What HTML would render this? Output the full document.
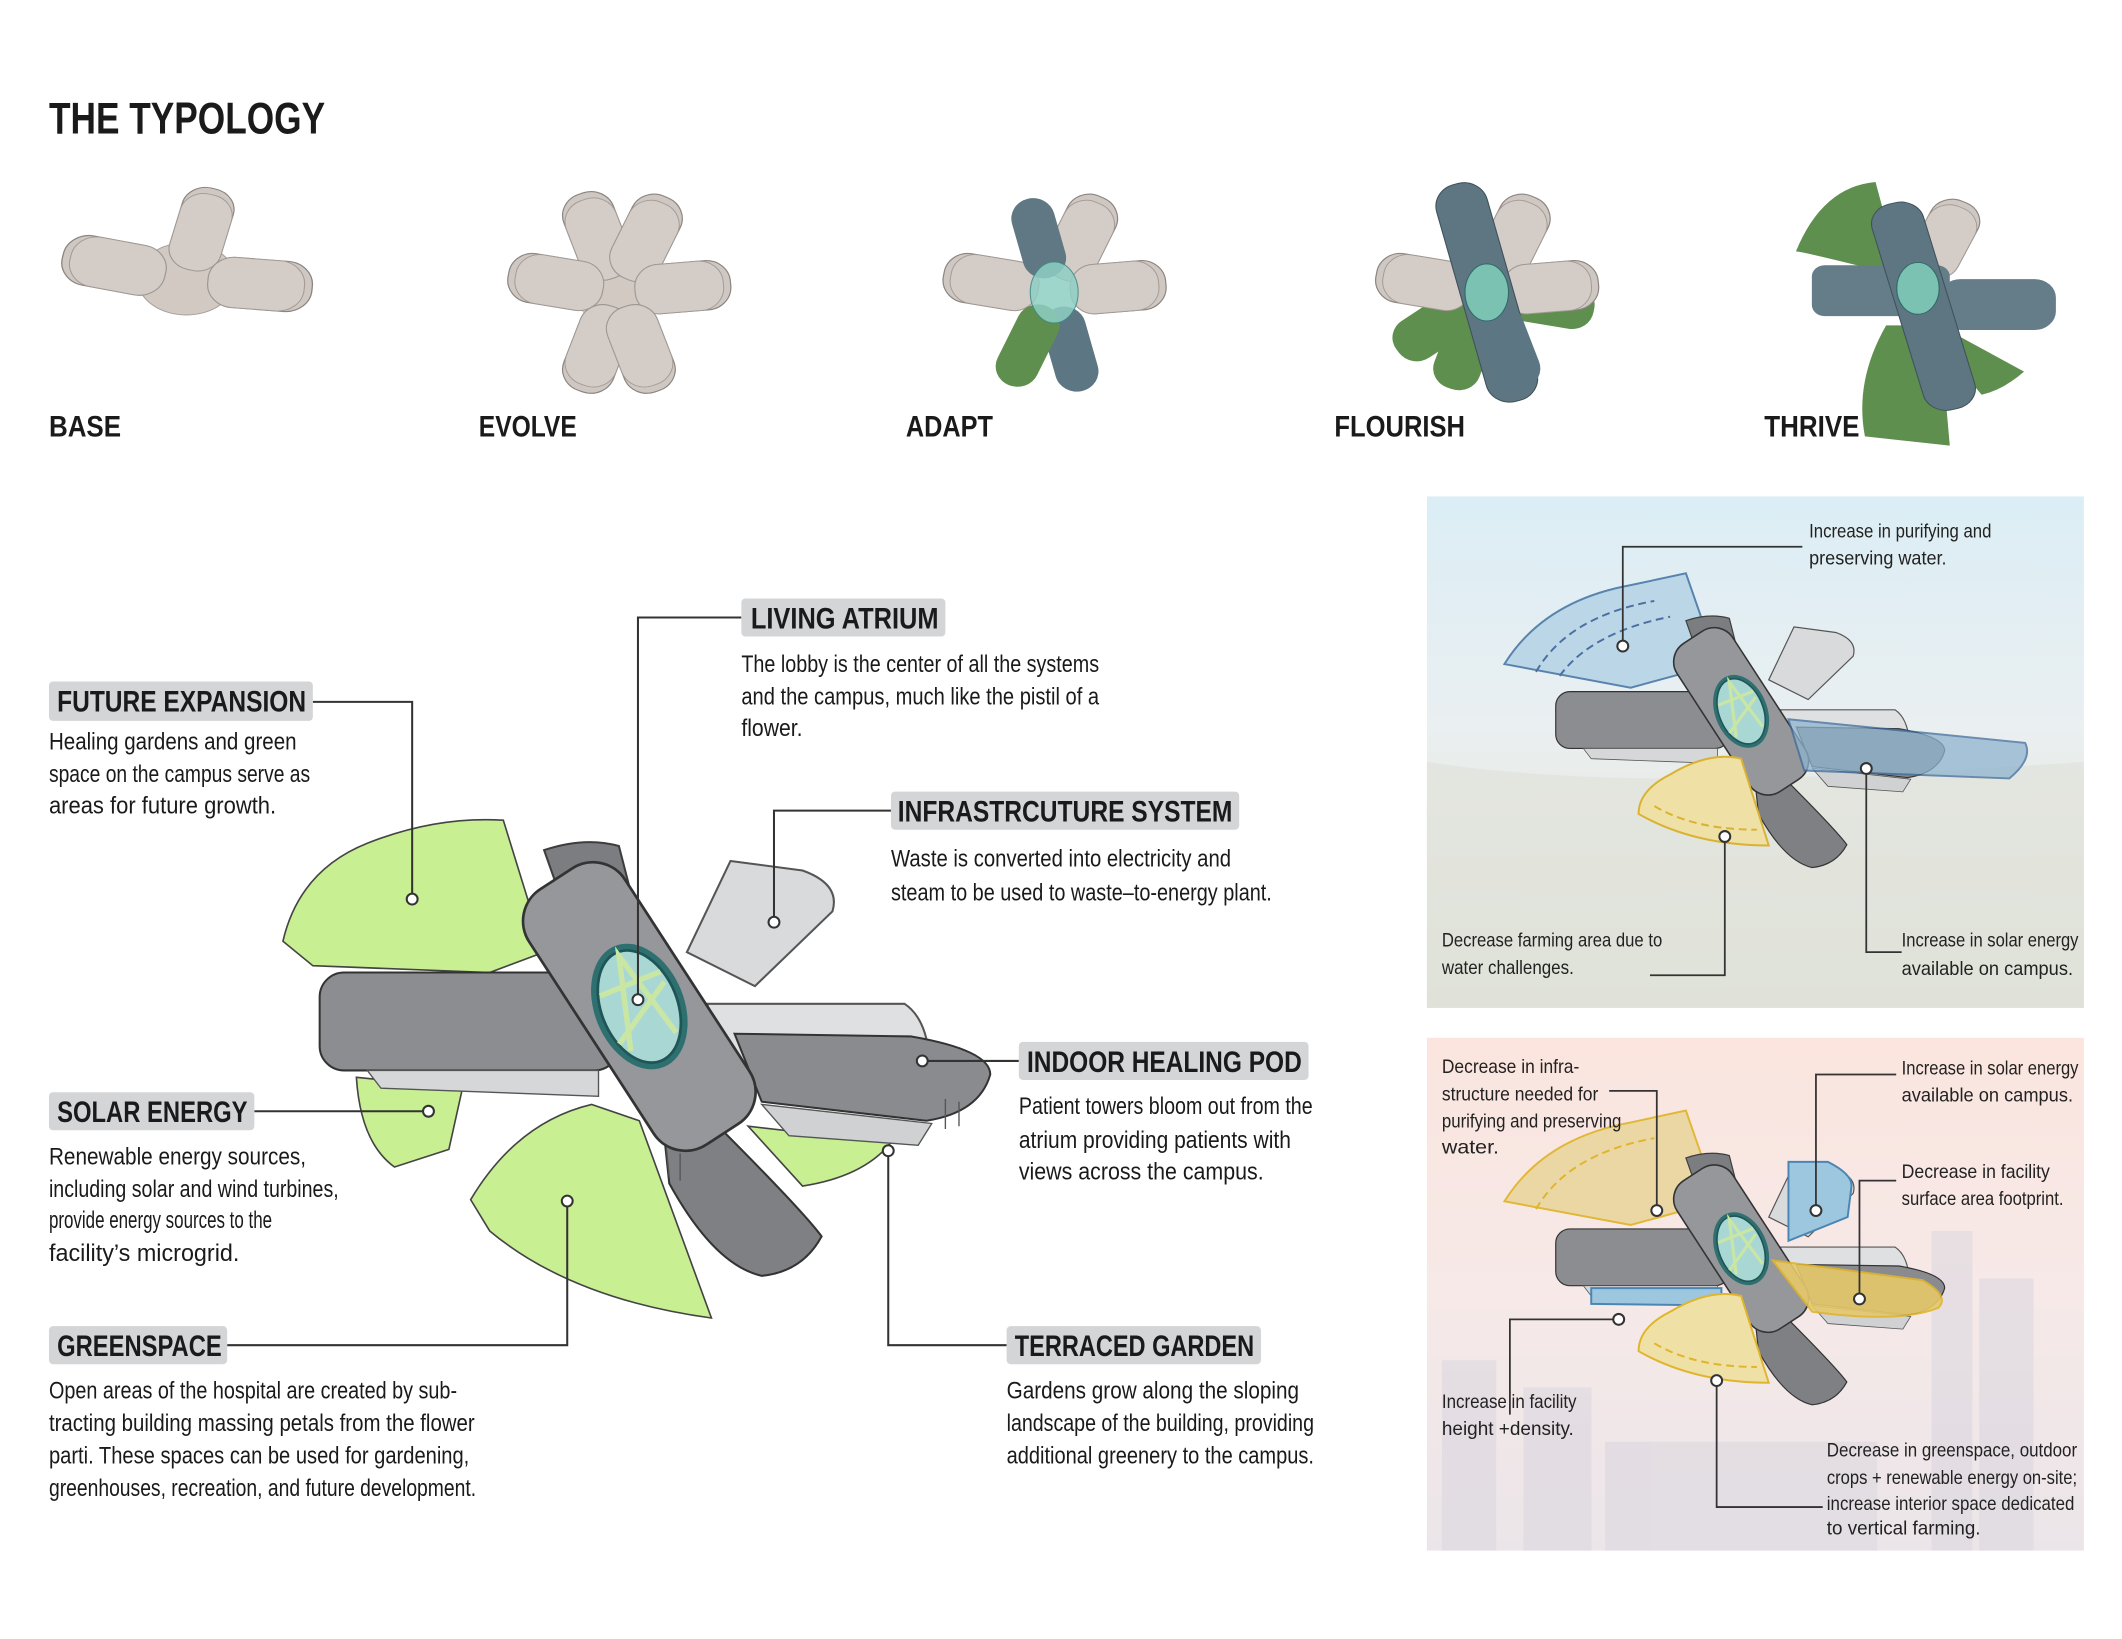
<!DOCTYPE html>
<html><head><meta charset="utf-8"><style>
html,body{margin:0;padding:0;background:#fff;}
svg{display:block}
text{font-family:"Liberation Sans",sans-serif;fill:#1a1a1a}
.h{font-weight:bold;font-size:22px}
.b{font-size:18px}
.s{font-size:14px;fill:#222}
</style></head><body>
<svg width="2122" height="1639" viewBox="0 0 1560 1205" preserveAspectRatio="none" xmlns="http://www.w3.org/2000/svg">
<defs>
<linearGradient id="g1" x1="0" y1="0" x2="0" y2="1"><stop offset="0" stop-color="#dbeef5"/><stop offset="0.45" stop-color="#eaeff1"/><stop offset="0.6" stop-color="#e8ebe6"/><stop offset="1" stop-color="#e2e5dd"/></linearGradient>
<linearGradient id="g2" x1="0" y1="0" x2="0" y2="1"><stop offset="0" stop-color="#fbe5de"/><stop offset="0.5" stop-color="#f6e9e8"/><stop offset="1" stop-color="#ebe5e9"/></linearGradient>
<g id="core">
 <path d="M-70,-115 Q-40,-125 -15,-118 L5,-40 L-40,-30 Z" fill="#7c7d80" stroke="#3d3d3d" stroke-width="1.5"/>
 <path d="M35,-40 L67,-107 L120,-100 Q148,-90 142,-70 L85,-15 Z" fill="#d9dadc" stroke="#555" stroke-width="1.5"/>
 <rect x="-235" y="-25" width="220" height="72" rx="18" fill="#8c8d90" stroke="#333" stroke-width="1.5"/>
 <path d="M-200,47 L-30,47 L-30,66 L-190,60 Z" fill="#d6d7d9" stroke="#555"/>
 <path d="M50,-2 L195,-2 Q210,8 213,35 L60,50 Z" fill="#dfe0e2" stroke="#555" stroke-width="1.5"/>
 <path d="M70,20 L200,22 Q258,32 258,50 Q250,78 211,84 L90,70 Z" fill="#8a8b8e" stroke="#333" stroke-width="1.5"/>
 <path d="M90,72 L215,86 L205,102 L110,95 Z" fill="#d0d1d3" stroke="#555"/>
 <path d="M18,92 L55,85 Q120,150 134,169 Q120,195 90,198 Q55,190 22,130 Z" fill="#7f8083" stroke="#333" stroke-width="1.5"/>
 <g transform="rotate(-33)"><rect x="-42" y="-112" width="84" height="224" rx="28" fill="#96979a" stroke="#333" stroke-width="2"/></g>
 <g transform="rotate(-22)"><ellipse cx="0" cy="0" rx="33" ry="48" fill="#2e6f70"/><ellipse cx="0" cy="0" rx="28" ry="43" fill="#a9d7d4" stroke="#1f5556" stroke-width="2"/>
 <path d="M-24,-18 L24,-18 M-18,28 L0,-40 L18,28 M-24,20 L24,-10" stroke="#c9e6a5" stroke-width="4" fill="none"/></g>
</g>
<g id="pet"><rect x="-22" y="-80" width="44" height="80" rx="20" fill="#cec7c2" stroke="#8c8480" stroke-width="1"/><rect x="-22" y="-74" width="44" height="74" rx="20" fill="#d3ccc7" stroke="#a29a95" stroke-width="0.8"/></g>
</defs>
<rect width="1560" height="1205" fill="#fff"/>

<text x="36" y="98" font-weight="bold" font-size="33" textLength="203" lengthAdjust="spacingAndGlyphs">THE TYPOLOGY</text>

<!-- Small flowers -->
<g transform="translate(137,205) scale(0.8,0.7)">
 <ellipse cx="0" cy="0" rx="45" ry="38" fill="#d2c9c3" stroke="#a99f99"/>
 <use href="#pet" transform="rotate(15) translate(0,-10) scale(1.1)"/>
 <use href="#pet" transform="rotate(-78) translate(0,-20) scale(1.2)"/>
 <use href="#pet" transform="rotate(95) translate(0,-20) scale(1.2)"/>
</g>
<g transform="translate(455,215) scale(0.8,0.75)">
 <ellipse cx="0" cy="0" rx="40" ry="35" fill="#d2c9c3"/>
 <use href="#pet" transform="rotate(-20) translate(0,-15) scale(1.1)"/>
 <use href="#pet" transform="rotate(25) translate(0,-15) scale(1.1)"/>
 <use href="#pet" transform="rotate(-80) translate(0,-15) scale(1.1)"/>
 <use href="#pet" transform="rotate(85) translate(0,-15) scale(1.1)"/>
 <use href="#pet" transform="rotate(200) translate(0,-15) scale(1.1)"/>
 <use href="#pet" transform="rotate(160) translate(0,-15) scale(1.1)"/>
</g>
<g transform="translate(775,215) scale(0.8,0.75)">
 <use href="#pet" transform="rotate(25) translate(0,-15) scale(1.1)"/>
 <use href="#pet" transform="rotate(-80) translate(0,-15) scale(1.1)"/>
 <use href="#pet" transform="rotate(85) translate(0,-15) scale(1.1)"/>
 <rect x="-20" y="-95" width="40" height="80" rx="20" fill="#5f7884" transform="rotate(-15)"/>
 <rect x="-20" y="15" width="40" height="85" rx="20" fill="#5c7783" transform="rotate(-15)"/>
 <rect x="-20" y="15" width="40" height="85" rx="20" fill="#5f8f4e" transform="rotate(25)"/>
 <ellipse cx="0" cy="0" rx="22" ry="30" fill="#8fcfc4" opacity="0.85" stroke="#3c8a84"/>
</g>
<g transform="translate(1093,215) scale(0.8,0.75)">
 <rect x="-22" y="15" width="44" height="85" rx="20" fill="#5f8f4e" transform="rotate(55)"/>
 <rect x="-22" y="15" width="44" height="85" rx="20" fill="#5f8f4e" transform="rotate(20)"/>
 <rect x="-22" y="15" width="44" height="85" rx="20" fill="#5f8f4e" transform="rotate(-80)"/>
 <use href="#pet" transform="rotate(25) translate(0,-15) scale(1.1)"/>
 <use href="#pet" transform="rotate(-80) translate(0,-15) scale(1.1)"/>
 <use href="#pet" transform="rotate(85) translate(0,-15) scale(1.1)"/>
 <rect x="-24" y="-110" width="48" height="220" rx="22" fill="#5d7682" stroke="#3e525b" transform="rotate(-15)"/>
 <rect x="-22" y="15" width="44" height="85" rx="20" fill="#5c7783" transform="rotate(-20)"/>
 <ellipse cx="0" cy="0" rx="20" ry="28" fill="#7cc2b3" stroke="#2f6a66"/>
</g>
<g transform="translate(1410,212) scale(0.78,0.68)">
 <path d="M-40,-20 Q-110,-40 -115,-40 Q-90,-110 -40,-115 L-20,-30 Z" fill="#5f8f4e"/>
 <path d="M-30,40 Q-60,100 -50,160 L30,170 L20,40 Z" fill="#5f8f4e"/>
 <path d="M20,40 L100,90 Q80,110 60,115 L20,60 Z" fill="#5f8f4e"/>
 <use href="#pet" transform="rotate(25) translate(0,-15) scale(1.1)"/>
 <rect x="-100" y="-25" width="130" height="55" rx="12" fill="#647d89"/>
 <rect x="20" y="-10" width="110" height="55" rx="20" fill="#647d89"/>
 <rect x="-25" y="-95" width="50" height="230" rx="22" fill="#5d7682" stroke="#3e525b" transform="rotate(-15)"/>
 <ellipse cx="0" cy="0" rx="20" ry="28" fill="#7cc2b3" stroke="#2f6a66"/>
</g>
<text class="h" x="36" y="321" textLength="53" lengthAdjust="spacingAndGlyphs">BASE</text>
<text class="h" x="352" y="321" textLength="72" lengthAdjust="spacingAndGlyphs">EVOLVE</text>
<text class="h" x="666" y="321" textLength="64" lengthAdjust="spacingAndGlyphs">ADAPT</text>
<text class="h" x="981" y="321" textLength="96" lengthAdjust="spacingAndGlyphs">FLOURISH</text>
<text class="h" x="1297" y="321" textLength="70" lengthAdjust="spacingAndGlyphs">THRIVE</text>

<!-- Main flower -->
<g transform="translate(470,740)">
 <path d="M-262,-48 Q-250,-100 -200,-120 Q-150,-140 -100,-137 L-70,-40 L-110,-25 L-240,-30 Z" fill="#c9ef93" stroke="#444" stroke-width="1.2"/>
 <path d="M-208,52 L-130,60 L-140,105 L-180,118 Q-205,100 -208,52 Z" fill="#c9ef93" stroke="#444" stroke-width="1.2"/>
 <path d="M80,88 L185,100 Q165,125 120,132 Z" fill="#c9ef93" stroke="#444" stroke-width="1.2"/>
 <use href="#core"/>
 <path d="M-124,142 Q-90,85 -35,72 L0,84 L53,229 Q-50,215 -110,165 Z" fill="#c9ef93" stroke="#444" stroke-width="1.2"/>
 <path d="M20,105 L22,125 M30,108 L30,128 M225,68 L225,90 M235,70 L235,88" stroke="#555"/>
</g>

<g fill="none" stroke="#333" stroke-width="1.5">
 <path d="M230,516 H303 V661"/><path d="M545,454 H469 V735"/><path d="M655,596 H569 V678"/>
 <path d="M749,780 H678"/><path d="M187,817 H315"/><path d="M167,989 H417 V883"/><path d="M740,989 H653 V846"/>
</g>
<g fill="#fff" stroke="#333" stroke-width="1.5">
 <circle cx="303" cy="661" r="4"/><circle cx="469" cy="735" r="4"/><circle cx="569" cy="678" r="4"/><circle cx="678" cy="780" r="4"/><circle cx="315" cy="817" r="4"/><circle cx="417" cy="883" r="4"/><circle cx="653" cy="846" r="4"/>
</g>
<g fill="#d4d5d7">
 <rect x="36" y="501" width="194" height="29" rx="3"/><rect x="545" y="440" width="150" height="28" rx="3"/><rect x="655" y="582" width="256" height="28" rx="3"/>
 <rect x="749" y="766" width="213" height="28" rx="3"/><rect x="36" y="803" width="151" height="28" rx="3"/><rect x="36" y="975" width="131" height="28" rx="3"/><rect x="740" y="975" width="187" height="28" rx="3"/>
</g>
<text class="h" x="42" y="523" textLength="183" lengthAdjust="spacingAndGlyphs">FUTURE EXPANSION</text>
<text class="b" x="36" y="551" textLength="182" lengthAdjust="spacingAndGlyphs">Healing gardens and green</text>
<text class="b" x="36" y="575" textLength="192" lengthAdjust="spacingAndGlyphs">space on the campus serve as</text>
<text class="b" x="36" y="598" textLength="167" lengthAdjust="spacingAndGlyphs">areas for future growth.</text>

<text class="h" x="552" y="462" textLength="138" lengthAdjust="spacingAndGlyphs">LIVING ATRIUM</text>
<text class="b" x="545" y="494" textLength="263" lengthAdjust="spacingAndGlyphs">The lobby is the center of all the systems</text>
<text class="b" x="545" y="518" textLength="263" lengthAdjust="spacingAndGlyphs">and the campus, much like the pistil of a</text>
<text class="b" x="545" y="541" textLength="45" lengthAdjust="spacingAndGlyphs">flower.</text>

<text class="h" x="660" y="604" textLength="246" lengthAdjust="spacingAndGlyphs">INFRASTRCUTURE SYSTEM</text>
<text class="b" x="655" y="637" textLength="250" lengthAdjust="spacingAndGlyphs">Waste is converted into electricity and</text>
<text class="b" x="655" y="662" textLength="280" lengthAdjust="spacingAndGlyphs">steam to be used to waste–to-energy plant.</text>

<text class="h" x="755" y="788" textLength="202" lengthAdjust="spacingAndGlyphs">INDOOR HEALING POD</text>
<text class="b" x="749" y="819" textLength="216" lengthAdjust="spacingAndGlyphs">Patient towers bloom out from the</text>
<text class="b" x="749" y="844" textLength="200" lengthAdjust="spacingAndGlyphs">atrium providing patients with</text>
<text class="b" x="749" y="867" textLength="180" lengthAdjust="spacingAndGlyphs">views across the campus.</text>

<text class="h" x="42" y="825" textLength="140" lengthAdjust="spacingAndGlyphs">SOLAR ENERGY</text>
<text class="b" x="36" y="856" textLength="189" lengthAdjust="spacingAndGlyphs">Renewable energy sources,</text>
<text class="b" x="36" y="880" textLength="213" lengthAdjust="spacingAndGlyphs">including solar and wind turbines,</text>
<text class="b" x="36" y="903" textLength="164" lengthAdjust="spacingAndGlyphs">provide energy sources to the</text>
<text class="b" x="36" y="927" textLength="140" lengthAdjust="spacingAndGlyphs">facility’s microgrid.</text>

<text class="h" x="42" y="997" textLength="121" lengthAdjust="spacingAndGlyphs">GREENSPACE</text>
<text class="b" x="36" y="1028" textLength="300" lengthAdjust="spacingAndGlyphs">Open areas of the hospital are created by sub-</text>
<text class="b" x="36" y="1052" textLength="313" lengthAdjust="spacingAndGlyphs">tracting building massing petals from the flower</text>
<text class="b" x="36" y="1076" textLength="309" lengthAdjust="spacingAndGlyphs">parti. These spaces can be used for gardening,</text>
<text class="b" x="36" y="1100" textLength="314" lengthAdjust="spacingAndGlyphs">greenhouses, recreation, and future development.</text>

<text class="h" x="746" y="997" textLength="176" lengthAdjust="spacingAndGlyphs">TERRACED GARDEN</text>
<text class="b" x="740" y="1028" textLength="215" lengthAdjust="spacingAndGlyphs">Gardens grow along the sloping</text>
<text class="b" x="740" y="1052" textLength="226" lengthAdjust="spacingAndGlyphs">landscape of the building, providing</text>
<text class="b" x="740" y="1076" textLength="226" lengthAdjust="spacingAndGlyphs">additional greenery to the campus.</text>

<!-- Right panel 1 -->
<rect x="1049" y="365" width="483" height="376" fill="url(#g1)"/>
<path d="M1049,560 Q1200,585 1532,560 L1532,741 L1049,741 Z" fill="#dde0d6" opacity="0.5"/>
<g transform="translate(1280,523) scale(0.58)">
 <path d="M-300,-60 Q-250,-140 -140,-160 L-70,-175 L-30,-60 L-140,-30 Z" fill="#b7d5e6" stroke="#4a78a6" stroke-width="2.5" opacity="0.9"/>
 <path d="M-260,-50 Q-220,-120 -110,-140 M-230,-45 Q-190,-100 -90,-120" stroke="#4a6fa0" stroke-width="2.5" stroke-dasharray="10,6" fill="none"/>
 <use href="#core"/>
 <path d="M60,10 L360,40 Q370,60 340,85 L80,75 Z" fill="#8fb4cf" stroke="#3f6b9c" stroke-width="2.5" opacity="0.75"/>
 <path d="M-90,80 Q-40,50 0,60 L35,170 Q-60,170 -130,130 Q-130,100 -90,80 Z" fill="#efe0a5" stroke="#d9b233" stroke-width="2.5"/>
 <path d="M-110,120 Q-60,150 20,150" stroke="#d9b233" stroke-width="2.5" stroke-dasharray="10,6" fill="none"/>
</g>
<g fill="none" stroke="#333" stroke-width="1.3"><path d="M1325,402 H1193 V475"/><path d="M1213,717 H1268 V615"/><path d="M1398,700 H1372 V565"/></g>
<g fill="#fff" stroke="#333" stroke-width="1.5"><circle cx="1193" cy="475" r="4"/><circle cx="1268" cy="615" r="4"/><circle cx="1372" cy="565" r="4"/></g>
<text class="s" x="1330" y="395" textLength="134" lengthAdjust="spacingAndGlyphs">Increase in purifying and</text>
<text class="s" x="1330" y="415" textLength="101" lengthAdjust="spacingAndGlyphs">preserving water.</text>
<text class="s" x="1060" y="696" textLength="162" lengthAdjust="spacingAndGlyphs">Decrease farming area due to</text>
<text class="s" x="1060" y="716" textLength="97" lengthAdjust="spacingAndGlyphs">water challenges.</text>
<text class="s" x="1398" y="696" textLength="130" lengthAdjust="spacingAndGlyphs">Increase in solar energy</text>
<text class="s" x="1398" y="717" textLength="126" lengthAdjust="spacingAndGlyphs">available on campus.</text>

<!-- Right panel 2 -->
<rect x="1049" y="763" width="483" height="377" fill="url(#g2)"/>
<g fill="#dcd8e0" opacity="0.6">
 <rect x="1060" y="1000" width="40" height="140"/><rect x="1120" y="1020" width="50" height="120"/><rect x="1420" y="905" width="30" height="235"/><rect x="1455" y="940" width="40" height="200"/><rect x="1180" y="1060" width="200" height="80"/>
</g>
<g transform="translate(1280,918) scale(0.58)">
 <path d="M-300,-60 Q-250,-140 -140,-160 L-70,-175 L-30,-60 L-140,-30 Z" fill="#ead7a0" stroke="#e0b52d" stroke-width="2.5" opacity="0.95"/>
 <path d="M-260,-50 Q-220,-120 -110,-140" stroke="#e0b52d" stroke-width="2.5" stroke-dasharray="10,6" fill="none"/>
 <use href="#core"/>
 <path d="M60,-110 L110,-110 Q140,-95 140,-80 L135,-40 L60,-10 Z" fill="#9cc7df" stroke="#4a86b5" stroke-width="2.5"/>
 <path d="M-190,50 L-25,50 L-25,72 L-190,70 Z" fill="#9cc7df" stroke="#4a86b5" stroke-width="2.5"/>
 <path d="M40,15 L230,40 Q265,60 250,75 Q200,95 90,80 Z" fill="#e6c96b" stroke="#e0b52d" stroke-width="2.5" opacity="0.9"/>
 <path d="M-90,80 Q-40,50 0,60 L35,170 Q-60,170 -130,130 Q-130,100 -90,80 Z" fill="#efe0a5" stroke="#e0b52d" stroke-width="2.5"/>
 <path d="M-110,120 Q-60,150 20,150" stroke="#e0b52d" stroke-width="2.5" stroke-dasharray="10,6" fill="none"/>
</g>
<g fill="none" stroke="#333" stroke-width="1.3"><path d="M1183,802 H1218 V890"/><path d="M1394,790 H1335 V890"/><path d="M1394,868 H1367 V955"/><path d="M1110,1040 V970 H1190"/><path d="M1340,1108 H1262 V1015"/></g>
<g fill="#fff" stroke="#333" stroke-width="1.5"><circle cx="1218" cy="890" r="4"/><circle cx="1335" cy="890" r="4"/><circle cx="1367" cy="955" r="4"/><circle cx="1190" cy="970" r="4"/><circle cx="1262" cy="1015" r="4"/></g>
<text class="s" x="1060" y="789" textLength="101" lengthAdjust="spacingAndGlyphs">Decrease in infra-</text>
<text class="s" x="1060" y="809" textLength="115" lengthAdjust="spacingAndGlyphs">structure needed for</text>
<text class="s" x="1060" y="829" textLength="132" lengthAdjust="spacingAndGlyphs">purifying and preserving</text>
<text class="s" x="1060" y="848" textLength="42" lengthAdjust="spacingAndGlyphs">water.</text>
<text class="s" x="1398" y="790" textLength="130" lengthAdjust="spacingAndGlyphs">Increase in solar energy</text>
<text class="s" x="1398" y="810" textLength="126" lengthAdjust="spacingAndGlyphs">available on campus.</text>
<text class="s" x="1398" y="866" textLength="109" lengthAdjust="spacingAndGlyphs">Decrease in facility</text>
<text class="s" x="1398" y="886" textLength="119" lengthAdjust="spacingAndGlyphs">surface area footprint.</text>
<text class="s" x="1060" y="1035" textLength="99" lengthAdjust="spacingAndGlyphs">Increase in facility</text>
<text class="s" x="1060" y="1055" textLength="97" lengthAdjust="spacingAndGlyphs">height +density.</text>
<text class="s" x="1343" y="1071" textLength="184" lengthAdjust="spacingAndGlyphs">Decrease in greenspace, outdoor</text>
<text class="s" x="1343" y="1091" textLength="184" lengthAdjust="spacingAndGlyphs">crops + renewable energy on-site;</text>
<text class="s" x="1343" y="1110" textLength="182" lengthAdjust="spacingAndGlyphs">increase interior space dedicated</text>
<text class="s" x="1343" y="1128" textLength="113" lengthAdjust="spacingAndGlyphs">to vertical farming.</text>
</svg>
</body></html>
